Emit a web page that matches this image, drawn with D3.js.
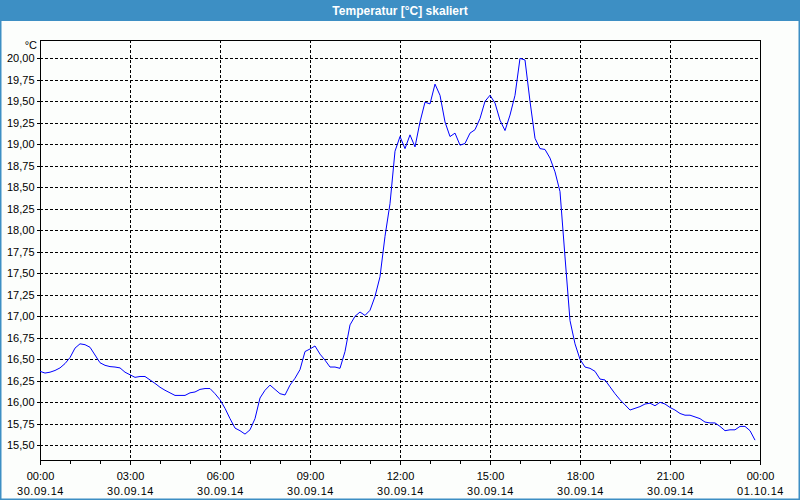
<!DOCTYPE html>
<html>
<head>
<meta charset="utf-8">
<title>Temperatur</title>
<script src="https://cdn.jsdelivr.net/npm/d3@7"></script>
<style>
  body { margin: 0; background: #fcfefc; }
  svg { display: block; font-family: "Liberation Sans", Arial, sans-serif; }
</style>
</head>
<body>
<script>
// Messwerte alle 10 Minuten, 30.09.14 00:00 bis 23:50
const startTime = new Date(2014, 8, 30, 0, 0);
const stepMinutes = 10;
const temps = [
  16.36, 16.34, 16.35, 16.37, 16.40, 16.45, 16.52, 16.63, 16.68, 16.67, 16.64, 16.55,
  16.46, 16.43, 16.415, 16.41, 16.40, 16.35, 16.32, 16.29, 16.30, 16.30, 16.26, 16.22,
  16.175, 16.14, 16.11, 16.08, 16.08, 16.08, 16.11, 16.12, 16.15, 16.16, 16.16, 16.10,
  16.03, 15.93, 15.81, 15.70, 15.67, 15.63, 15.68, 15.81, 16.05, 16.14, 16.20, 16.15,
  16.10, 16.085, 16.20, 16.28, 16.38, 16.59, 16.62, 16.655, 16.56, 16.49, 16.41, 16.41,
  16.395, 16.59, 16.90, 17.00, 17.05, 17.01, 17.07, 17.23, 17.46, 17.93, 18.31, 18.92,
  19.09, 18.95, 19.11, 18.97, 19.26, 19.49, 19.47, 19.70, 19.57, 19.26, 19.09, 19.13,
  18.99, 19.01, 19.13, 19.17, 19.30, 19.50, 19.57, 19.48, 19.28, 19.16, 19.34, 19.57,
  20.00, 19.98, 19.50, 19.07, 18.95, 18.94, 18.84, 18.68, 18.45, 17.69, 16.95, 16.68,
  16.50, 16.41, 16.395, 16.36, 16.27, 16.26, 16.18, 16.10, 16.03, 15.97, 15.91, 15.93,
  15.95, 15.98, 15.99, 15.96, 16.00, 15.98, 15.94, 15.91, 15.87, 15.85, 15.85, 15.83,
  15.81, 15.77, 15.76, 15.76, 15.72, 15.67, 15.68, 15.68, 15.72, 15.72, 15.67, 15.56
];

const yTicks = [15.5, 15.75, 16, 16.25, 16.5, 16.75, 17, 17.25, 17.5, 17.75,
                18, 18.25, 18.5, 18.75, 19, 19.25, 19.5, 19.75, 20];
const xTickTimes = ["00:00", "03:00", "06:00", "09:00", "12:00", "15:00", "18:00", "21:00", "00:00"];
const xTickDates = ["30.09.14", "30.09.14", "30.09.14", "30.09.14", "30.09.14",
                    "30.09.14", "30.09.14", "30.09.14", "01.10.14"];

const width = 800;
const height = 500;
const marginTop = 40;
const marginRight = 40;
const marginBottom = 40;
const marginLeft = 40;

const data = temps.map((v, i) => ({ t: d3.timeMinute.offset(startTime, i * stepMinutes), v }));
const endTime = d3.timeDay.offset(startTime, 1);
const majorTicks = d3.timeHour.every(3).range(startTime, d3.timeMinute.offset(endTime, 1));
const minorTicks = d3.timeHour.every(1).range(startTime, d3.timeMinute.offset(endTime, 1));

const x = d3.scaleTime()
    .domain([startTime, endTime])
    .range([marginLeft, width - marginRight]);

const y = d3.scaleLinear()
    .domain([15.329, 20.213])
    .range([height - marginBottom, marginTop]);

const fmt = d3.formatLocale({ decimal: ",", thousands: ".", grouping: [3], currency: ["", "€"] }).format(".2f");

const svg = d3.select("body").append("svg")
    .attr("width", width)
    .attr("height", height);

// Fensterrahmen + Titelleiste
svg.append("rect")
    .attr("x", 0.5).attr("y", 0.5)
    .attr("width", width - 1).attr("height", height - 1)
    .attr("fill", "#fcfefc")
    .attr("stroke", "#3d8fc4")
    .attr("stroke-width", 2);

svg.append("rect")
    .attr("x", 0).attr("y", 0)
    .attr("width", width).attr("height", 21)
    .attr("fill", "#3d8fc4");

svg.append("text")
    .attr("x", width / 2).attr("y", 14.5)
    .attr("text-anchor", "middle")
    .attr("fill", "white")
    .attr("font-weight", "bold")
    .attr("font-size", 12)
    .text("Temperatur [°C] skaliert");

// Gitter
const grid = svg.append("g")
    .attr("stroke", "#000")
    .attr("stroke-dasharray", "3,2")
    .attr("shape-rendering", "crispEdges");

grid.selectAll("line.h")
  .data(yTicks)
  .join("line")
    .attr("class", "h")
    .attr("x1", marginLeft).attr("x2", width - marginRight)
    .attr("y1", d => Math.round(y(d)) + 0.5)
    .attr("y2", d => Math.round(y(d)) + 0.5);

grid.selectAll("line.v")
  .data(majorTicks.slice(1, -1))
  .join("line")
    .attr("class", "v")
    .attr("y1", marginTop).attr("y2", height - marginBottom)
    .attr("x1", d => Math.round(x(d)) + 0.5)
    .attr("x2", d => Math.round(x(d)) + 0.5);

// Achsen
const yAxis = svg.append("g")
    .attr("transform", `translate(${marginLeft + 0.5},0)`)
    .call(d3.axisLeft(y).tickValues(yTicks).tickSize(4).tickSizeOuter(0).tickFormat(fmt))
    .attr("font-family", null)
    .attr("font-size", 11);
yAxis.select(".domain").remove();
yAxis.selectAll(".tick line").attr("shape-rendering", "crispEdges");
yAxis.selectAll(".tick text").attr("x", -6).attr("fill", "#000");

const xMinor = svg.append("g")
    .attr("transform", `translate(0,${height - marginBottom + 0.5})`)
    .call(d3.axisBottom(x).tickValues(minorTicks).tickSize(3).tickFormat(""));
xMinor.select(".domain").remove();
xMinor.selectAll(".tick line").attr("shape-rendering", "crispEdges");

const xAxis = svg.append("g")
    .attr("transform", `translate(0,${height - marginBottom + 0.5})`)
    .call(d3.axisBottom(x).tickValues(majorTicks).tickSize(4).tickFormat(""));
xAxis.select(".domain").remove();
xAxis.selectAll(".tick line").attr("shape-rendering", "crispEdges");

const labels = xAxis.selectAll(".tick").append("text")
    .attr("fill", "#000")
    .attr("font-size", 11)
    .attr("text-anchor", "middle");
labels.append("tspan").attr("x", 0).attr("y", 19).text((d, i) => xTickTimes[i]);
labels.append("tspan").attr("x", 0).attr("y", 34).attr("letter-spacing", 0.5).text((d, i) => xTickDates[i]);

svg.append("rect")
    .attr("x", marginLeft + 0.5).attr("y", marginTop + 0.5)
    .attr("width", width - marginLeft - marginRight)
    .attr("height", height - marginTop - marginBottom)
    .attr("fill", "none")
    .attr("stroke", "#000")
    .attr("shape-rendering", "crispEdges");

svg.append("text")
    .attr("x", marginLeft - 3).attr("y", 49)
    .attr("text-anchor", "end")
    .attr("font-size", 11)
    .text("°C");

// Kurve
const line = d3.line()
    .x(d => x(d.t))
    .y(d => y(d.v));

svg.append("path")
    .datum(data)
    .attr("fill", "none")
    .attr("stroke", "#0000ff")
    .attr("stroke-width", 1)
    .attr("d", line);
</script>
</body>
</html>
